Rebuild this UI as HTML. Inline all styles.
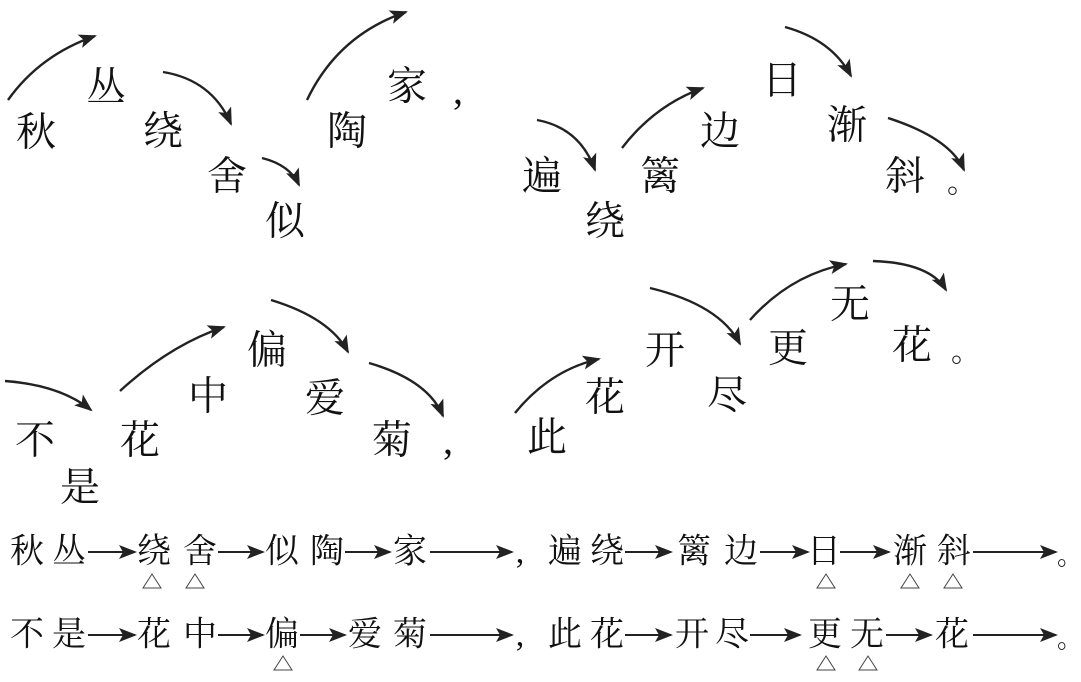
<!DOCTYPE html>
<html><head><meta charset="utf-8"><style>
html,body{margin:0;padding:0;background:#fff;}
svg{display:block}
text{font-family:"Liberation Serif","Noto Serif CJK SC",serif;fill:#111;}
.t{font-size:40px;}
.b{font-size:34px;}
</style></head><body>
<svg width="1081" height="682" viewBox="0 0 1081 682" xmlns="http://www.w3.org/2000/svg">
<defs>
<marker id="a" markerUnits="userSpaceOnUse" markerWidth="18" markerHeight="14" refX="16" refY="7" orient="auto">
<path d="M0,0 L18,7 L0,14 L4,7 Z" fill="#222"/>
</marker>
</defs>
<g fill="none" stroke="#222" stroke-width="2.4" marker-end="url(#a)">
<path d="M8,100 Q40,55 95,36"/>
<path d="M163,72 Q212,80 231,124"/>
<path d="M262,158 Q290,165 299,185"/>
<path d="M307,100 Q338,35 406,12"/>
<path d="M537,120 Q580,128 595,170"/>
<path d="M622,148 Q655,105 703,88"/>
<path d="M785,27 Q832,40 851,76"/>
<path d="M888,118 Q950,138 964,170"/>
<path d="M5,381 Q60,385 91,410"/>
<path d="M120,391 Q170,345 224,327"/>
<path d="M271,300 Q330,318 348,352"/>
<path d="M369,363 Q428,380 443,416"/>
<path d="M515,413 Q550,370 599,359"/>
<path d="M650,288 Q720,305 740,344"/>
<path d="M750,320 Q790,275 846,264"/>
<path d="M873,261 Q930,263 946,290"/>
</g>
<g class="t" text-anchor="middle" dominant-baseline="central">
<text x="36" y="132">秋</text><text x="106" y="87">丛</text><text x="163" y="131">绕</text>
<text x="227" y="176">舍</text><text x="285" y="221">似</text><text x="347" y="131">陶</text>
<text x="407" y="86">家</text><text x="458" y="90">,</text>
<text x="542" y="176">遍</text><text x="605" y="221">绕</text><text x="660" y="176">篱</text>
<text x="720" y="131">边</text><text x="782" y="80">日</text><text x="847" y="125">渐</text>
<text x="905" y="176">斜</text><text x="962" y="183" style="font-size:30px">。</text>
<text x="35" y="440">不</text><text x="80" y="487">是</text><text x="140" y="440">花</text>
<text x="208" y="396">中</text><text x="267" y="350">偏</text><text x="325" y="398">爱</text>
<text x="392" y="440">菊</text><text x="448" y="440">,</text>
<text x="547" y="437">此</text><text x="605" y="397">花</text><text x="665" y="350">开</text>
<text x="727" y="395">尽</text><text x="788" y="348">更</text><text x="850" y="304">无</text>
<text x="912" y="345">花</text><text x="966" y="352" style="font-size:30px">。</text>
</g>
<g class="b" text-anchor="middle" dominant-baseline="central">
<text x="27" y="552">秋</text><text x="69" y="552">丛</text><text x="154" y="552">绕</text><text x="200" y="552">舍</text>
<text x="282" y="552">似</text><text x="327" y="552">陶</text><text x="410" y="552">家</text><text x="520" y="552">,</text>
<text x="565" y="552">遍</text><text x="607" y="552">绕</text><text x="694" y="552">篱</text><text x="741" y="552">边</text>
<text x="824" y="552">日</text><text x="910" y="552">渐</text><text x="954" y="552">斜</text><text x="1070" y="556" style="font-size:26px">。</text>
<text x="27" y="635">不</text><text x="69" y="635">是</text><text x="154" y="635">花</text><text x="200" y="635">中</text>
<text x="282" y="635">偏</text><text x="365" y="635">爱</text><text x="410" y="635">菊</text><text x="520" y="635">,</text>
<text x="565" y="635">此</text><text x="607" y="635">花</text><text x="692" y="635">开</text><text x="732" y="635">尽</text>
<text x="825" y="635">更</text><text x="867" y="635">无</text><text x="952" y="635">花</text><text x="1070" y="639" style="font-size:26px">。</text>
</g>
<g fill="none" stroke="#222" stroke-width="2" marker-end="url(#a)">
<path d="M88,552 H135"/><path d="M218,552 H263"/><path d="M345,552 H390"/><path d="M430,552 H512"/>
<path d="M625,552 H671"/><path d="M760,552 H808"/><path d="M840,552 H889"/><path d="M973,552 H1056"/>
<path d="M88,635 H135"/><path d="M218,635 H263"/><path d="M300,635 H345"/><path d="M430,635 H512"/>
<path d="M625,635 H671"/><path d="M750,635 H800"/><path d="M886,635 H931"/><path d="M973,635 H1056"/>
</g>
<g fill="none" stroke="#444" stroke-width="1">
<path d="M152,574 L143,588 H161 Z"/><path d="M195,574 L186,588 H204 Z"/>
<path d="M826,574 L817,588 H835 Z"/><path d="M910,574 L901,588 H919 Z"/><path d="M953,574 L944,588 H962 Z"/>
<path d="M283,656 L274,670 H292 Z"/><path d="M826,656 L817,670 H835 Z"/><path d="M868,656 L859,670 H877 Z"/>
</g>
</svg>
</body></html>
